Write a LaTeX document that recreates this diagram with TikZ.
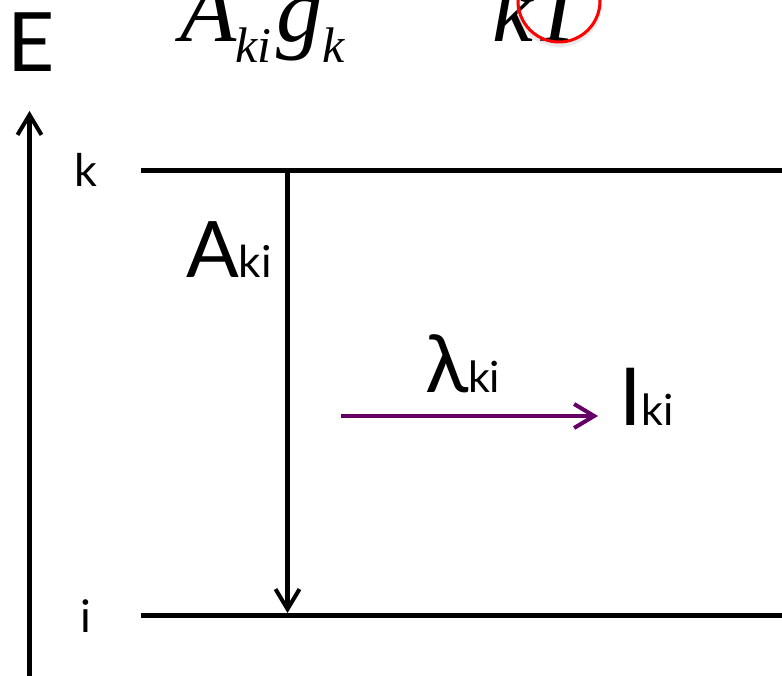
\documentclass[tikz,border=0pt]{standalone}
\usepackage{fontspec}
\setmainfont{Lato}
\newfontfamily\tmsfont{Liberation Serif}
\usetikzlibrary{arrows.meta}
\definecolor{arrowpurple}{RGB}{102,0,102}
\newcommand{\fsz}[1]{\fontsize{#1}{#1}\selectfont}
\begin{document}
\begin{tikzpicture}[x=1pt,y=-1pt,
  lvl/.style={line width=5pt},
  barb/.style={-{Straight Barb[length=20pt,width=24pt,line width=4pt]}},
  lbl/.style={anchor=base west,inner sep=0pt,outer sep=0pt},
  small/.style={lbl,font=\fsz{45}},
  tms/.style={lbl,font=\fsz{92}\tmsfont\itshape},
  tmssub/.style={lbl,font=\fsz{50}\tmsfont\itshape}]
\useasboundingbox (0,0) rectangle (782,676);
% top formula (cut off)
\node[tms] (fa) at (180,42) {A};
\node[tmssub] (fki) at (235,63) {ki};
\node[tms] (fg) at (276,42) {g};
\node[tmssub] (fk) at (322,63) {k};
\node[tms] (fkt) at (492,42) {kT};
\draw[black!25,opacity=0.35,line width=4pt] (559,4) circle[radius=41];
\node[draw=red,line width=3pt,circle,minimum size=82pt,inner sep=0pt] (rc) at (559,1) {};
% energy axis
\node[lbl,font=\fsz{82}] (E) at (8,72) {E};
\coordinate (ebot) at (29.5,676);
\coordinate (etop) at (29.5,111);
\draw[barb,line width=4.5pt] (ebot) -- (etop);
% levels
\node[small] (lk) at (74,187) {k};
\node[small] (li) at (80,632) {i};
\coordinate (ks) at (141,170.5);
\coordinate (ke) at (782,170.5);
\coordinate (is) at (141,615);
\coordinate (ie) at (782,615);
\draw[lvl] (ks) -- (ke);
\draw[lvl] (is) -- (ie);
% transition
\coordinate (ttop) at (287.5,170.5);
\coordinate (tbot) at (287.5,613);
\draw[barb,line width=4.5pt] (ttop) -- (tbot);
\node[lbl] (aki) at (186,278) {{\fsz{78}A}{\fsz{44}ki}};
% emission
\coordinate (ps) at (341,416);
\coordinate (pe) at (598,416);
\draw[barb,arrowpurple,line width=4pt] (ps) -- (pe);
\node[lbl] (lam) at (425,392) {{\fsz{80}λ}{\fsz{43}ki}};
\node[lbl] (iki) at (619,425) {{\fsz{80}I}{\fsz{43}ki}};
\end{tikzpicture}
\end{document}
